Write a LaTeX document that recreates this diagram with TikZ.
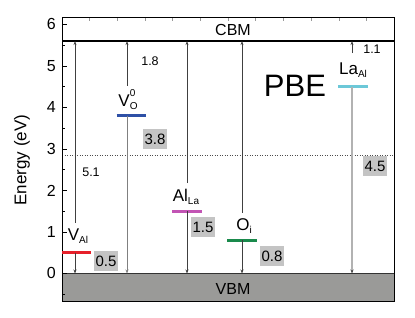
\documentclass[tikz,border=0pt]{standalone}
\usepackage{fontspec}
\setmainfont{Liberation Sans}
\usetikzlibrary{arrows.meta}
\definecolor{vbmgray}{HTML}{9A9A98}
\definecolor{boxgray}{HTML}{C4C4C4}
\definecolor{lvred}{HTML}{E6202A}
\definecolor{lvblue}{HTML}{2E50A6}
\definecolor{lvmag}{HTML}{C254B4}
\definecolor{lvgreen}{HTML}{1A8A4C}
\definecolor{lvcyan}{HTML}{6CC8D8}
\tikzset{
  tr/.style={arrows={-Stealth[length=4pt,width=3pt]}, draw=black!75, line width=0.55pt},
  level/.style={line width=3pt},
  gapval/.style={font=\fontsize{12.5}{12.5}\selectfont, inner sep=0pt},
  boxval/.style={fill=boxgray, font=\fontsize{15}{15}\selectfont, inner sep=0pt, minimum width=24pt, minimum height=20pt},
  deflab/.style={font=\fontsize{17}{17}\selectfont, inner sep=0pt},
  ticklab/.style={font=\fontsize{16}{16}\selectfont, anchor=east, inner sep=0pt},
}
\newcommand{\subx}[1]{\raisebox{-0.35ex}{\fontsize{10}{10}\selectfont #1}}
\begin{document}
\begin{tikzpicture}[x=1pt,y=41.5pt]
\useasboundingbox (0,-1.072) rectangle (415,6.590);
% VBM box
\fill[vbmgray] (62,-0.68) rectangle (394,0);
\draw[black!80, line width=0.9pt] (62,0) -- (394,0);
% CBM line
\draw[black, line width=1.8pt] (62,5.6) -- (394,5.6);
% midgap dotted line
\draw[black!70, dotted, line width=0.5pt] (62,2.85) -- (394,2.85);
% x minor ticks (top and bottom)
\foreach \k in {1,...,11} {
  \draw[black!40, line width=0.4pt] (62+27.67*\k,6.16) -- ++(0,-3pt);
  \draw[black!40, line width=0.4pt] (62+27.67*\k,-0.68) -- ++(0,3pt);
}
% y ticks
\foreach \e in {0,...,6} {
  \draw[black, line width=0.6pt] (62,\e) -- ++(5pt,0);
  \node[ticklab] at (56,\e) {\e};
}
\foreach \e in {-0.5,0.5,1.5,2.5,3.5,4.5,5.5} {
  \draw[black, line width=0.6pt] (62,\e) -- ++(3pt,0);
}
% frame
\draw[black, line width=0.8pt] (62,-0.68) rectangle (394,6.16);
% axis label
\node[rotate=90, font=\fontsize{17}{17}\selectfont] (ylab) at (22,2.73) {Energy (eV)};
\node[font=\fontsize{16}{16}\selectfont] (cbm) at (233,5.87) {CBM};
\node[font=\fontsize{16}{16}\selectfont] (vbm) at (233,-0.373) {VBM};
\node[font=\fontsize{31}{31}\selectfont] (pbe) at (295,4.52) {PBE};

% ---- V_Al ----
\coordinate (a-cb) at (75,5.6);
\coordinate (a-st) at (75,1.22);
\coordinate (a-lv) at (75,0.5);
\coordinate (a-vb) at (75,0);
\draw[level, lvred] (62,0.5) -- (91,0.5);
\draw[tr] (a-st) -- (a-cb);
\draw[tr] (a-lv) -- (a-vb);
\node[deflab] (a-lab) at (78,0.9) {V\subx{Al}};
\node[gapval] (a-gap) at (91,2.45) {5.1};
\node[boxval] (a-box) at (106,0.30) {0.5};

% ---- V_O^0 ----
\coordinate (o-cb) at (127,5.6);
\coordinate (o-st) at (127,4.52);
\coordinate (o-lv) at (127,3.8);
\coordinate (o-vb) at (127,0);
\draw[level, lvblue] (116.5,3.8) -- (146,3.8);
\draw[tr] (o-st) -- (o-cb);
\draw[tr, draw=black!50] (o-lv) -- (o-vb);
\node[deflab] (o-lab) at (128,4.18) {V\rlap{\raisebox{1.1ex}{\fontsize{10}{10}\selectfont 0}}\subx{O}};
\node[gapval] (o-gap) at (150,5.12) {1.8};
\node[boxval] (o-box) at (155,3.24) {3.8};

% ---- Al_La ----
\coordinate (l-cb) at (187,5.6);
\coordinate (l-st) at (187,2.18);
\coordinate (l-lv) at (187,1.5);
\coordinate (l-vb) at (187,0);
\draw[level, lvmag] (172,1.5) -- (202,1.5);
\draw[tr] (l-st) -- (l-cb);
\draw[tr] (l-lv) -- (l-vb);
\node[deflab] (l-lab) at (186,1.84) {Al\subx{La}};
\node[boxval] (l-box) at (203,1.12) {1.5};

% ---- O_i ----
\coordinate (i-cb) at (242,5.6);
\coordinate (i-st) at (242,1.46);
\coordinate (i-lv) at (242,0.8);
\coordinate (i-vb) at (242,0);
\draw[level, lvgreen] (227,0.8) -- (257,0.8);
\draw[tr] (i-st) -- (i-cb);
\draw[tr] (i-lv) -- (i-vb);
\node[deflab] (i-lab) at (244,1.14) {O\subx{i}};
\node[boxval] (i-box) at (272,0.42) {0.8};

% ---- La_Al ----
\coordinate (c-cb) at (352,5.6);
\coordinate (c-st) at (352,5.31);
\coordinate (c-lv) at (352,4.5);
\coordinate (c-vb) at (352,0);
\draw[level, lvcyan] (338,4.5) -- (368,4.5);
\draw[tr] (c-st) -- (c-cb);
\draw[tr, draw=black!30, line width=1.6pt, arrows={-Stealth[length=4pt,width=3pt,black!75]}] (c-lv) -- (c-vb);
\node[deflab] (c-lab) at (353,4.90) {La\subx{Al}};
\node[gapval] (c-gap) at (372,5.41) {1.1};
\node[boxval] (c-box) at (375,2.59) {4.5};
\end{tikzpicture}
\end{document}
